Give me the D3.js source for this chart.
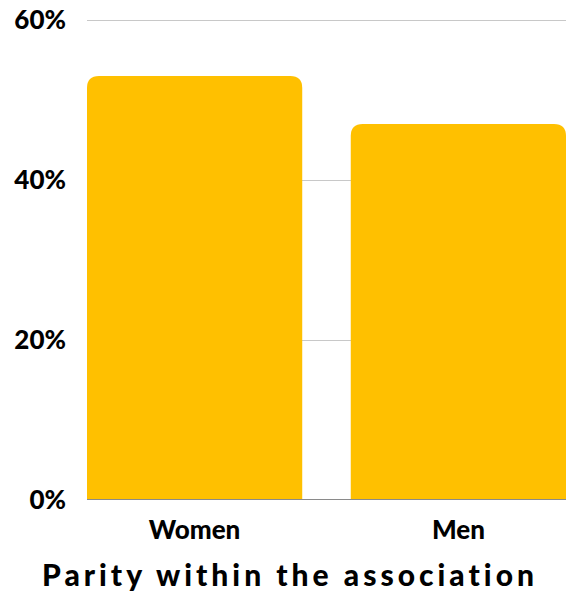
<!DOCTYPE html>
<html>
<head>
<meta charset="utf-8">
<script src="https://cdn.jsdelivr.net/npm/d3@7"></script>
<style>
  body { margin: 0; background: #fff; }
  text { font-family: Lato, "Open Sans", sans-serif; font-weight: 900; fill: #000; }
</style>
</head>
<body>
<script>
// parity chart - share of women / men in the association

var categories = ["Women", "Men"];
var shares = [53, 47];
var yTicks = [0, 20, 40, 60];
var title = "Parity within the association";

var margin = {top: 20, bottom: 92, left: 87, right: 5},
    width = 571 - margin.left - margin.right,
    height = 592 - margin.top - margin.bottom;

var x = d3.scaleBand()
    .domain(categories)
    .range([0, width])
    .paddingInner(0.184)
    .paddingOuter(0);

var y = d3.scaleLinear()
    .domain([0, 60])
    .range([height, 0]);

var svg = d3.select("body").append("svg")
    .attr("width", 571)
    .attr("height", 592)
    .append("g")
    .attr("transform", "translate(" + margin.left + "," + margin.top + ")");

// gridlines
svg.selectAll(".grid")
    .data(yTicks.filter(function(d){ return d > 0; }))
    .enter().append("line")
    .attr("x1", 0)
    .attr("x2", width)
    .attr("y1", function(d){ return y(d) + 0.5; })
    .attr("y2", function(d){ return y(d) + 0.5; })
    .attr("stroke", "#c8c8c8")
    .attr("stroke-width", 1);

// bars with rounded top corners
var r = 12;
svg.selectAll(".bar")
    .data(shares)
    .enter().append("path")
    .attr("class", "bar")
    .attr("fill", "#ffc000")
    .attr("d", function(d, i){
        var x0 = x(categories[i]), x1 = x0 + x.bandwidth();
        var y0 = y(d), y1 = y(0);
        return "M" + x0 + "," + y1 +
            "V" + (y0 + r) +
            "Q" + x0 + "," + y0 + " " + (x0 + r) + "," + y0 +
            "H" + (x1 - r) +
            "Q" + x1 + "," + y0 + " " + x1 + "," + (y0 + r) +
            "V" + y1 + "Z";
    });

// baseline
svg.append("line")
    .attr("x1", 0)
    .attr("x2", width)
    .attr("y1", y(0) - 0.5)
    .attr("y2", y(0) - 0.5)
    .attr("stroke", "#8a8a8a")
    .attr("stroke-width", 1);

// y labels
svg.selectAll(".ylab")
    .data(yTicks)
    .enter().append("text")
    .attr("x", -21)
    .attr("y", function(d){ return y(d); })
    .attr("dy", "0.36em")
    .attr("text-anchor", "end")
    .style("font-size", "26px")
    .text(function(d){ return d + "%"; });

// x labels
svg.selectAll(".xlab")
    .data(categories)
    .enter().append("text")
    .attr("x", function(d){ return x(d) + x.bandwidth() / 2; })
    .attr("y", height + 39)
    .attr("text-anchor", "middle")
    .style("font-size", "26px")
    .text(function(d){ return d; });

// title
svg.append("text")
    .attr("x", 290 - margin.left)
    .attr("y", height + 86)
    .attr("text-anchor", "middle")
    .style("font-size", "30px")
    .style("letter-spacing", "4px")
    .text(title);
</script>
</body>
</html>
